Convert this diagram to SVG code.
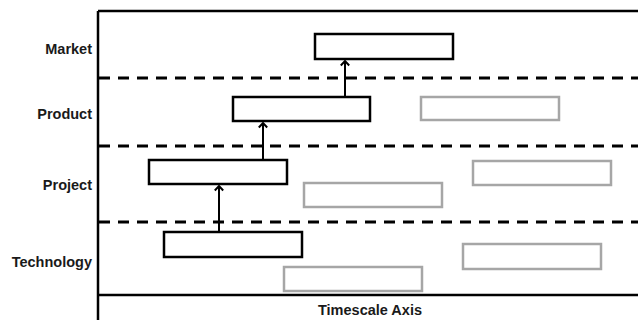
<svg xmlns="http://www.w3.org/2000/svg" width="638" height="320" viewBox="0 0 638 320">
<style>
.lbl{font-family:"Liberation Sans",Arial,sans-serif;font-weight:bold;font-size:14.5px;fill:#1a1a1a}
.main{fill:#fff;stroke:#000;stroke-width:2.5}
.ghost{fill:#fff;stroke:#a6a6a6;stroke-width:2.5}
.dash{stroke:#000;stroke-width:3;stroke-dasharray:11 8;fill:none}
.axis{stroke:#000;stroke-width:2.5;fill:none}
.conn{stroke:#000;stroke-width:2;fill:none;marker-end:url(#ah)}
</style>
<defs>
<marker id="ah" viewBox="0 0 10 10" refX="8.5" refY="5" markerWidth="10" markerHeight="10" markerUnits="userSpaceOnUse" orient="auto">
<path d="M4,0.8 L8.5,5 L4,9.2" fill="none" stroke="#000" stroke-width="2"/>
</marker>
</defs>
<rect width="638" height="320" fill="#fff"/>
<g id="frame">
<line class="axis" x1="98" y1="11" x2="638" y2="11"/>
<line class="axis" x1="98" y1="11" x2="98" y2="320"/>
<line class="axis" x1="98" y1="295" x2="638" y2="295"/>
<line class="dash" x1="99" y1="78" x2="638" y2="78"/>
<line class="dash" x1="99" y1="146" x2="638" y2="146"/>
<line class="dash" x1="99" y1="222" x2="638" y2="222"/>
</g>
<g id="labels">
<text class="lbl" x="92" y="54" text-anchor="end">Market</text>
<text class="lbl" x="92" y="119" text-anchor="end">Product</text>
<text class="lbl" x="92" y="190" text-anchor="end">Project</text>
<text class="lbl" x="92" y="267" text-anchor="end">Technology</text>
<text class="lbl" x="370" y="315" text-anchor="middle">Timescale Axis</text>
</g>
<g id="ghost-product"><rect class="ghost" x="421" y="97" width="138" height="23"/></g>
<g id="ghost-project-1"><rect class="ghost" x="304" y="183" width="138" height="24"/></g>
<g id="ghost-project-2"><rect class="ghost" x="473" y="161" width="138" height="24"/></g>
<g id="ghost-technology-1"><rect class="ghost" x="284" y="267" width="138" height="24"/></g>
<g id="ghost-technology-2"><rect class="ghost" x="463" y="244" width="138" height="25"/></g>
<g id="market"><rect class="main" x="315" y="34" width="138" height="25"/></g>
<g id="product"><rect class="main" x="233" y="97" width="137" height="24"/></g>
<g id="project"><rect class="main" x="149" y="160" width="138" height="24"/></g>
<g id="technology"><rect class="main" x="164" y="232" width="138" height="25"/></g>
<g id="connectors">
<line class="conn" x1="345" y1="97" x2="345" y2="61"/>
<line class="conn" x1="263" y1="160" x2="263" y2="123"/>
<line class="conn" x1="219" y1="232" x2="219" y2="186"/>
</g>
</svg>
